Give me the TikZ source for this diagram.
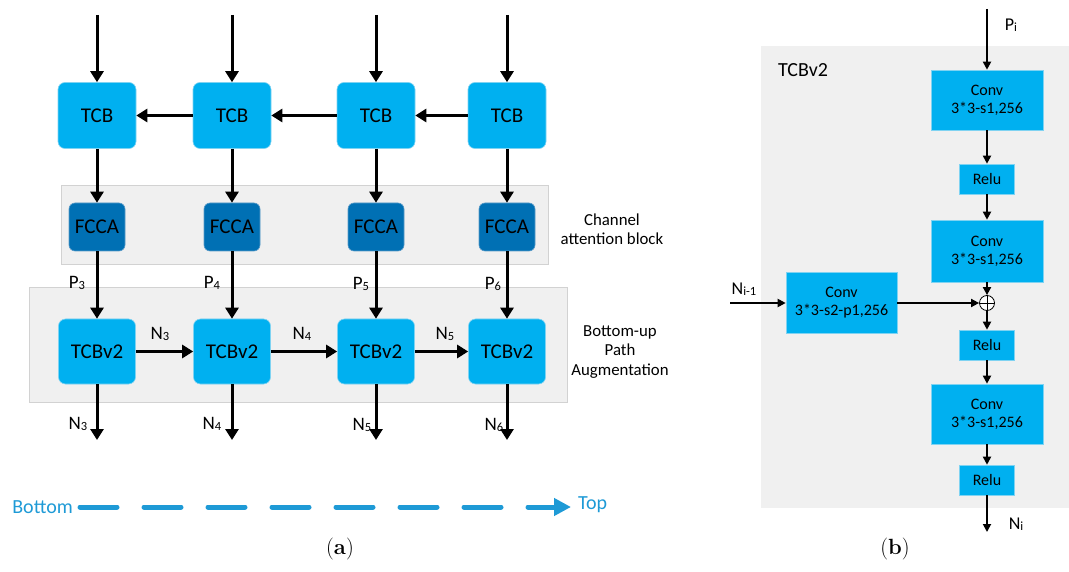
\documentclass[tikz,border=0pt]{standalone}
\usepackage{fontspec}
\newfontfamily\carl{Carlito}
\usetikzlibrary{arrows.meta}
\definecolor{cyanbox}{HTML}{00B0F0}
\definecolor{cyanline}{HTML}{7FD3F2}
\definecolor{darkbox}{HTML}{0070B4}
\definecolor{darkline}{HTML}{5A9BC8}
\definecolor{panel}{HTML}{F0F0F0}
\definecolor{panelline}{HTML}{D2D2D2}
\definecolor{flow}{HTML}{1E9AD6}
% letter with a small, slightly lowered index
\newcommand{\idx}[2]{#1{\fontsize{12.5}{12.5}\selectfont\raisebox{-0.8pt}{#2}}}
\begin{document}
\begin{tikzpicture}[x=1pt,y=-1pt,
  panelbox/.style={draw=panelline,fill=panel,line width=0.8pt,inner sep=0pt},
  tcb/.style={rounded corners=7pt,fill=cyanbox,draw=cyanline,line width=0.6pt,
    minimum width=78pt,minimum height=66pt,inner sep=0pt,font=\carl\fontsize{21}{24}\selectfont},
  fcca/.style={rounded corners=6pt,fill=darkbox,draw=darkline,line width=0.6pt,
    minimum width=56pt,minimum height=48pt,inner sep=0pt,font=\carl\fontsize{21}{24}\selectfont},
  tcbv/.style={tcb,minimum width=77pt,minimum height=65pt},
  layer/.style={fill=cyanbox,draw=cyanline,line width=0.6pt,inner sep=0pt,align=center,
    font=\carl\fontsize{16}{18}\selectfont},
  conv/.style={layer,minimum width=112pt,minimum height=60pt},
  relu/.style={layer,minimum width=55pt,minimum height=30pt},
  lbl/.style={font=\carl\fontsize{19}{22}\selectfont,inner sep=0pt},
  blbl/.style={font=\carl\fontsize{18}{21}\selectfont,inner sep=0pt},
  side/.style={font=\carl\fontsize{16.8}{19.5}\selectfont,align=center,inner sep=0pt},
  bigarrow/.style={line width=3pt,-{Triangle[length=11pt,width=13pt]}},
  smallarrow/.style={line width=1.8pt,-{Triangle[length=8pt,width=8pt]}},
  dashflow/.style={draw=flow,line width=5pt,line cap=round,dash pattern=on 37pt off 27pt,
    -{Triangle[length=17pt,width=17pt,line cap=butt]}},
  flowtext/.style={text=flow,font=\carl\fontsize{20}{22}\selectfont,inner xsep=7pt,inner ysep=0pt},
  caption/.style={font=\fontsize{22}{26}\selectfont,inner sep=0pt}]
\useasboundingbox (0,0) rectangle (1069,572);

% ---------- (a) feature pyramid with attention and bottom-up path ----------
\node[panelbox,minimum width=487pt,minimum height=79pt] (cab) at (304.5,224.5) {};
\node[panelbox,minimum width=538pt,minimum height=115pt] (bpa) at (298,344.5) {};

\foreach \i/\x in {1/97,2/232,3/376,4/507}{
  \coordinate (in\i) at (\x,15);
  \node[tcb] (tcb\i) at (\x,115.5) {TCB};
  \node[fcca] (fc\i) at (\x,227) {FCCA};
  \node[tcbv] (tv\i) at (\x,351.5) {TCBv2};
  \coordinate (out\i) at (\x,440);
  \draw[bigarrow] (in\i) -- (tcb\i.north);
  \draw[bigarrow] (tcb\i.south) -- (fc\i.north);
  \draw[bigarrow] (fc\i.south) -- (tv\i.north);
  \draw[bigarrow] (tv\i.south) -- (out\i);
}
\draw[bigarrow] (tcb4.west) -- (tcb3.east);
\draw[bigarrow] (tcb3.west) -- (tcb2.east);
\draw[bigarrow] (tcb2.west) -- (tcb1.east);
\draw[bigarrow] (tv1.east) -- (tv2.west);
\draw[bigarrow] (tv2.east) -- (tv3.west);
\draw[bigarrow] (tv3.east) -- (tv4.west);

\node[lbl] (p3) at (77,283) {\idx{P}{3}};
\node[lbl] (p4) at (212,283) {\idx{P}{4}};
\node[lbl] (p5) at (361,284) {\idx{P}{5}};
\node[lbl] (p6) at (493,284) {\idx{P}{6}};
\node[lbl] (h3) at (160,334) {\idx{N}{3}};
\node[lbl] (h4) at (302,334) {\idx{N}{4}};
\node[lbl] (h5) at (445,334) {\idx{N}{5}};
\node[lbl] (n3) at (78,424) {\idx{N}{3}};
\node[lbl] (n4) at (212,424) {\idx{N}{4}};
\node[lbl] (n5) at (362,425) {\idx{N}{5}};
\node[lbl] (n6) at (494,425) {\idx{N}{6}};

\node[side] (cabtext) at (612,229) {Channel\\attention block};
\node[side] (bpatext) at (620,352) {Bottom-up\\Path\\Augmentation};

\node[flowtext,anchor=east] (bottom) at (80,507) {Bottom};
\node[flowtext,anchor=west] (top) at (571,505) {Top};
\draw[dashflow] (bottom.east |- 0,507) -- (top.west |- 0,507);

\node[caption] (capa) at (340,549) {(\textbf{a})};

% ---------- (b) inside a TCBv2 block ----------
\node[panelbox,draw=none,minimum width=308pt,minimum height=462pt] (blk) at (915,277) {};
\node[font=\carl\fontsize{20}{22}\selectfont,inner sep=0pt] (blkname) at (803,70) {TCBv2};

\coordinate (pin) at (987,9);
\node[conv] (c1) at (987,100) {Conv\\3*3-s1,256};
\node[relu] (r1) at (987,179) {Relu};
\node[conv,minimum height=62pt] (c2) at (987,251) {Conv\\3*3-s1,256};
\node[circle,draw,fill=white,line width=0.8pt,minimum size=15pt,inner sep=0pt] (sum) at (987,303) {};
\draw[line width=0.8pt] (sum.north) -- (sum.south) (sum.west) -- (sum.east);
\node[conv,minimum width=111pt,minimum height=61pt] (cl) at (841.5,303) {Conv\\3*3-s2-p1,256};
\node[relu] (r2) at (987,345) {Relu};
\node[conv] (c3) at (987,414) {Conv\\3*3-s1,256};
\node[relu] (r3) at (987,480) {Relu};
\coordinate (nout) at (987,532);
\coordinate (nin) at (730,303);

\draw[smallarrow] (pin) -- (c1.north);
\draw[smallarrow] (c1.south) -- (r1.north);
\draw[smallarrow] (r1.south) -- (c2.north);
\draw[smallarrow] (c2.south) -- (sum.north);
\draw[smallarrow] (nin) -- (cl.west);
\draw[smallarrow] (cl.east) -- (sum.west);
\draw[smallarrow] (sum.south) -- (r2.north);
\draw[smallarrow] (r2.south) -- (c3.north);
\draw[smallarrow] (c3.south) -- (r3.north);
\draw[smallarrow] (r3.south) -- (nout);

\node[blbl] (pi) at (1011,25) {\idx{P}{i}};
\node[blbl] (nim) at (744,289) {\idx{N}{i-1}};
\node[blbl] (ni) at (1016,524) {\idx{N}{i}};

\node[caption] (capb) at (895,549) {(\textbf{b})};
\end{tikzpicture}
\end{document}
